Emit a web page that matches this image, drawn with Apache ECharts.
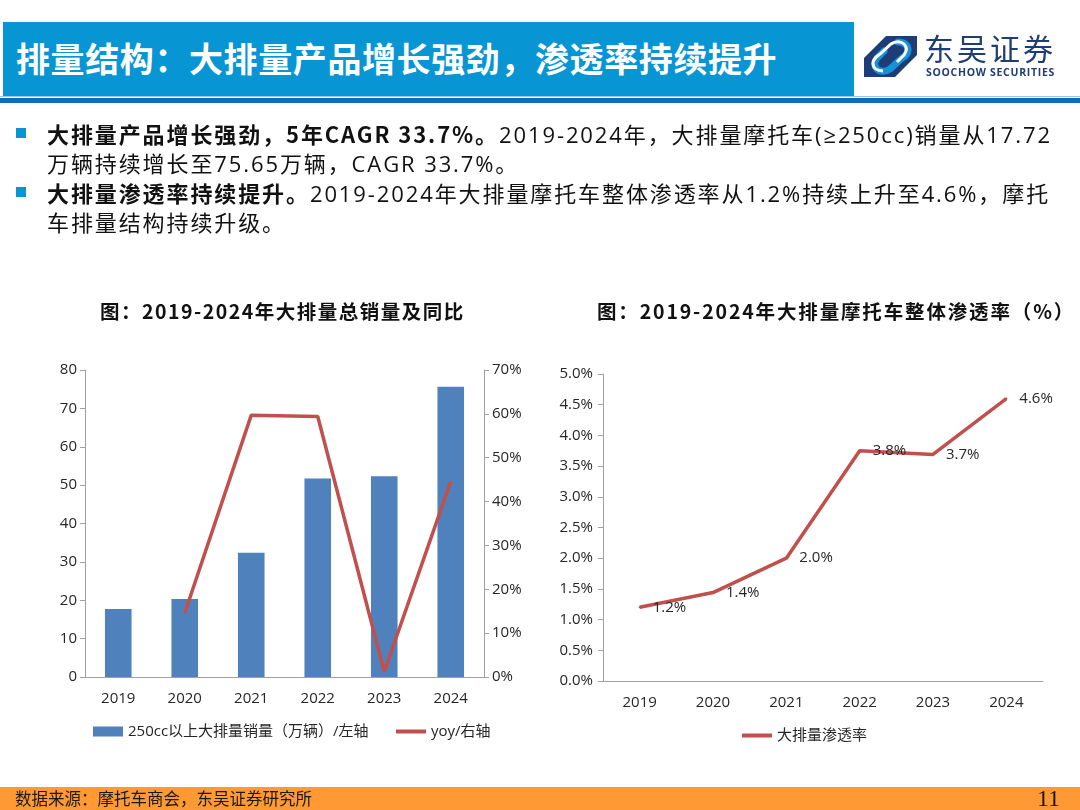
<!DOCTYPE html>
<html lang="zh-CN">
<head>
<meta charset="UTF-8">
<title>排量结构</title>
<style>
    html, body { margin: 0; padding: 0; }
    body {
        width: 1080px; height: 810px; position: relative; overflow: hidden;
        background: #fff; font-family: "Open Sans", "Noto Sans CJK SC", sans-serif; color: #222;
    }
    #chart { position: absolute; left: 0; top: 0; width: 1080px; height: 810px; z-index: 0; }
    .abs { position: absolute; z-index: 1; }
    .head { left: 3px; top: 22px; width: 851px; height: 75px; background: #0795D4; }
    .head span {
        position: absolute; left: 13px; top: 14px; color: #fff; font-size: 34px; font-weight: bold;
        font-family: "Noto Sans CJK SC"; line-height: 44px; white-space: nowrap; letter-spacing: 0.6px;
    }
    .rule1 { left: 0; top: 98px; width: 1080px; height: 5px; background: #0A6FC2; }
    .rule2 { left: 0; top: 96px; width: 1080px; height: 1px; background: #9CC7EA; }
    .logo-cn { left: 924px; top: 28px; font-size: 30px; color: #1E3C75; font-family: "Noto Sans CJK SC"; line-height: 38px; letter-spacing: 3px; }
    .logo-en { left: 926px; top: 66px; font-size: 10.5px; font-weight: bold; color: #1E3C75; font-family: "Open Sans"; line-height: 13px; letter-spacing: 0.7px; }
    .bul { left: 16px; width: 10px; height: 10px; background: #0795D4; }
    .txt { left: 47px; font-size: 22px; line-height: 30px; white-space: nowrap; color: #111; letter-spacing: 1.9px; }
    .txt b { font-family: "Noto Sans CJK SC"; }
    .ctitle { top: 297px; font-size: 19.5px; font-weight: bold; font-family: "Noto Sans CJK SC"; white-space: nowrap; line-height: 28px; color: #111; letter-spacing: 1.5px; }
    .foot { left: 0; top: 787px; width: 1080px; height: 23px; background: #FF9933; }
    .foot .src { position: absolute; left: 15px; top: 0px; font-size: 16.5px; line-height: 23px; font-family: "Noto Sans CJK SC"; color: #1a1a1a; }
    .foot .pg { position: absolute; right: 20px; top: -3px; font-size: 24px; line-height: 28px; font-family: "Liberation Serif"; color: #1a1a1a; }
</style>
</head>
<body>
    <div class="abs head"><span>排量结构：大排量产品增长强劲，渗透率持续提升</span></div>
    <div class="abs rule2"></div>
    <div class="abs rule1"></div>

    <svg class="abs" style="left:864px;top:36px" width="53" height="41" viewBox="0 0 53 41">
        <rect x="0" y="0" width="53" height="41" fill="#1E3C75"/>
        <path d="M0 0 L22 0 L0 22 Z" fill="#fff"/>
        <path d="M31 41 L53 41 L53 19 Z" fill="#fff"/>
        <path d="M34 6 C40 6 44 9 44 14 C44 18 41 20 37 23 L26 33 C22 36 16 36 13 33 C10 30 10 26 13 22 L20 15" fill="none" stroke="#1592D8" stroke-width="7" stroke-linecap="round"/>
        <path d="M19 35 C13 35 9 32 9 27 C9 23 12 21 16 18 L27 8 C31 5 37 5 40 8 C43 11 43 15 40 19 L33 26" fill="none" stroke="#fff" stroke-width="3"/>
    </svg>
    <div class="abs logo-cn">东吴证券</div>
    <div class="abs logo-en">SOOCHOW SECURITIES</div>

    <div class="abs bul" style="top:128px"></div>
    <div class="abs txt" style="top:118px"><b>大排量产品增长强劲，5年CAGR 33.7%。</b>2019-2024年，大排量摩托车(≥250cc)销量从17.72</div>
    <div class="abs txt" style="top:148px">万辆持续增长至75.65万辆，CAGR 33.7%。</div>
    <div class="abs bul" style="top:187px"></div>
    <div class="abs txt" style="top:177px"><b>大排量渗透率持续提升。</b>2019-2024年大排量摩托车整体渗透率从1.2%持续上升至4.6%，摩托</div>
    <div class="abs txt" style="top:207px">车排量结构持续升级。</div>

    <div class="abs ctitle" style="left:100px">图：2019-2024年大排量总销量及同比</div>
    <div class="abs ctitle" style="left:597px;letter-spacing:1.85px">图：2019-2024年大排量摩托车整体渗透率（%）</div>

    <div class="abs foot"><span class="src">数据来源：摩托车商会，东吴证券研究所</span><span class="pg">11</span></div>

    <div id="chart"></div>

    <script src="https://cdn.jsdelivr.net/npm/echarts@6/dist/echarts.min.js"></script>
    <script>
        // values
        var years = ['2019', '2020', '2021', '2022', '2023', '2024'];
        var salesWan = [17.72, 20.3, 32.4, 51.7, 52.3, 75.65];      // 万辆
        var yoyPct = [null, 14.6, 59.7, 59.4, 1.2, 44.6];            // %
        var penetrationPct = [1.2, 1.44, 2.0, 3.75, 3.69, 4.6];      // %

        var salesName = '250cc以上大排量销量（万辆）/左轴';
        var yoyName = 'yoy/右轴';
        var penName = '大排量渗透率';

        var red = '#C0504D';
        var axisGray = '#A0A0A0';
        var txt = { color: '#262626', fontSize: 15, fontFamily: 'Open Sans, Noto Sans CJK SC' };

        function catAxis(grid) {
            return {
                type: 'category', gridIndex: grid, data: years,
                axisLine: { lineStyle: { color: axisGray } },
                axisTick: { length: 5, lineStyle: { color: axisGray } },
                axisLabel: Object.assign({ margin: 14 }, txt)
            };
        }
        function valAxis(grid, opt) {
            return Object.assign({
                type: 'value', gridIndex: grid,
                splitLine: { show: false },
                axisLine: { show: true, lineStyle: { color: axisGray } },
                axisTick: { show: true, length: 5, lineStyle: { color: axisGray } },
                axisLabel: Object.assign({ margin: 8 }, txt)
            }, opt);
        }
        // one legend per item so bar swatch and line swatch can differ in height
        function legendAt(left, top, name, h) {
            return {
                left: left, top: top, padding: 0,
                itemWidth: 30, itemHeight: h, textStyle: txt,
                data: [{ name: name, icon: 'rect' }]
            };
        }

        var chart = echarts.init(document.getElementById('chart'));
        chart.setOption({
            animation: false,
            grid: [
                { left: 85, top: 370, width: 399, height: 307 },
                { left: 603, top: 374, width: 440, height: 307 }
            ],
            legend: [
                legendAt(93, 724, salesName, 10),
                legendAt(396, 724, yoyName, 4),
                legendAt(742, 728, penName, 4)
            ],
            xAxis: [catAxis(0), catAxis(1)],
            yAxis: [
                valAxis(0, { min: 0, max: 80, interval: 10 }),
                valAxis(0, {
                    min: 0, max: 70, interval: 10, position: 'right',
                    axisLabel: Object.assign({ margin: 8, formatter: '{value}%' }, txt)
                }),
                valAxis(1, {
                    min: 0, max: 5, interval: 0.5,
                    axisLabel: Object.assign({ margin: 10, formatter: function (v) { return v.toFixed(1) + '%'; } }, txt)
                })
            ],
            series: [
                {
                    name: salesName, type: 'bar', xAxisIndex: 0, yAxisIndex: 0,
                    data: salesWan, barWidth: '40%',
                    itemStyle: { color: '#4F81BD' }
                },
                {
                    name: yoyName, type: 'line', xAxisIndex: 0, yAxisIndex: 1,
                    data: yoyPct, symbol: 'none',
                    lineStyle: { color: red, width: 3.5 },
                    itemStyle: { color: red }
                },
                {
                    name: penName, type: 'line', xAxisIndex: 1, yAxisIndex: 2,
                    data: penetrationPct, symbol: 'circle', symbolSize: 2,
                    lineStyle: { color: red, width: 3.5 },
                    itemStyle: { color: red },
                    label: {
                        show: true, position: 'right', distance: 12,
                        color: '#262626', fontSize: 15, fontFamily: 'Open Sans',
                        formatter: function (p) { return p.value.toFixed(1) + '%'; }
                    }
                }
            ]
        });
    </script>
</body>
</html>
